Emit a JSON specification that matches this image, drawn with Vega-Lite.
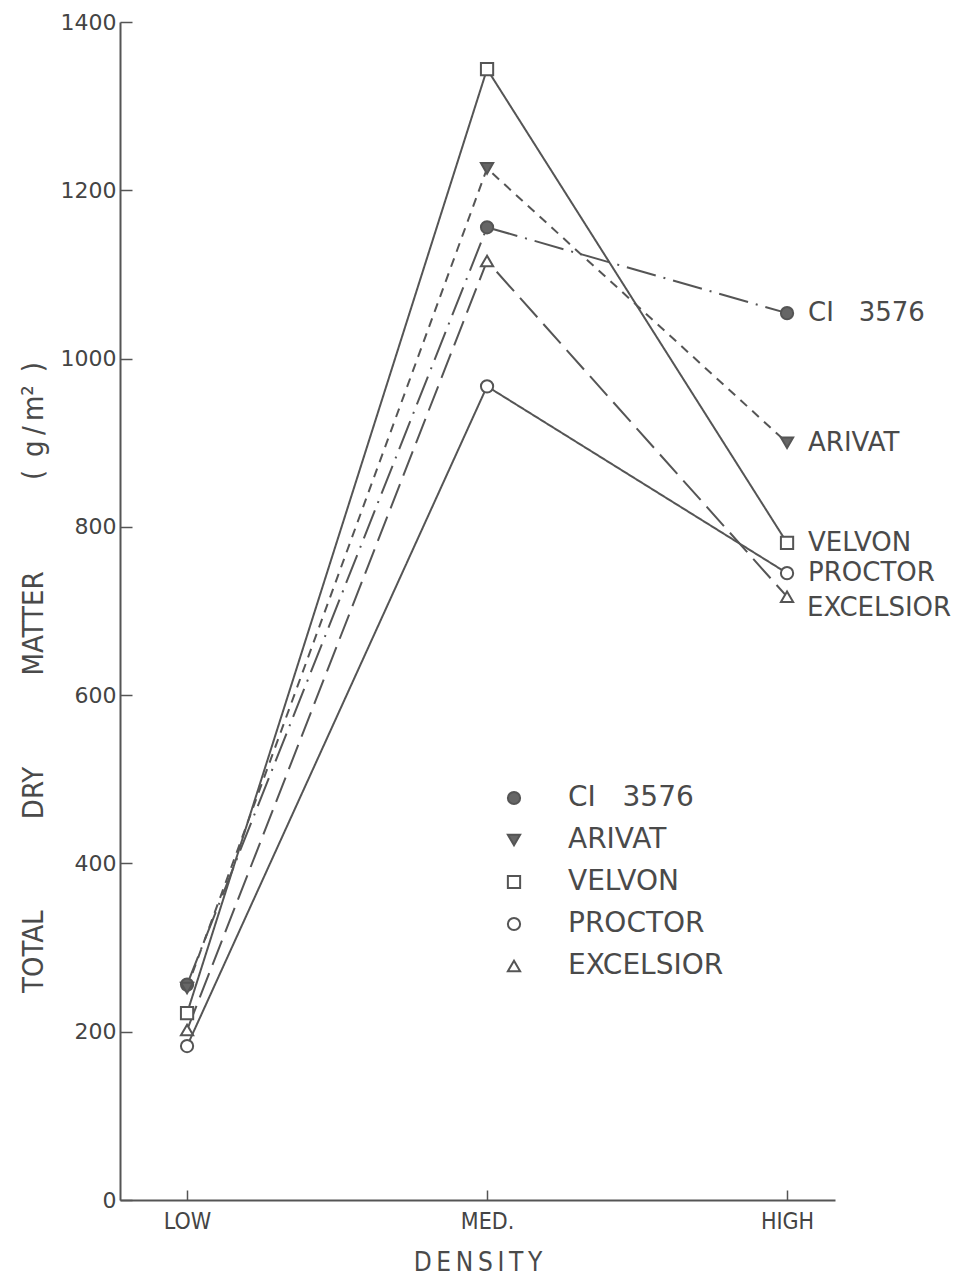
{
  "$schema": "https://vega.github.io/schema/vega-lite/v6.json",
  "width": 715,
  "height": 1178,
  "autosize": {"type": "none"},
  "padding": {"left": 120, "top": 22, "right": 122, "bottom": 76},
  "background": "white",
  "config": {
    "view": {"stroke": null},
    "font": "DejaVu Sans",
    "axis": {
      "domainColor": "#555",
      "domainWidth": 2,
      "tickColor": "#555",
      "tickWidth": 1.5,
      "grid": false,
      "labelColor": "#444",
      "titleColor": "#4a4a4a",
      "titleFontWeight": "normal"
    },
    "legend": {
      "orient": "none",
      "legendX": 380,
      "legendY": 762,
      "labelFontSize": 28,
      "labelColor": "#4a4a4a",
      "labelOffset": 40,
      "rowPadding": 14,
      "symbolSize": 150,
      "symbolStrokeWidth": 2
    }
  },
  "data": {
    "values": [
      {"variety": "CI\u00a0\u00a0\u00a03576", "density": "LOW", "tdm": 256},
      {"variety": "CI\u00a0\u00a0\u00a03576", "density": "MED.", "tdm": 1156},
      {"variety": "CI\u00a0\u00a0\u00a03576", "density": "HIGH", "tdm": 1054},
      {"variety": "ARIVAT", "density": "LOW", "tdm": 252},
      {"variety": "ARIVAT", "density": "MED.", "tdm": 1226},
      {"variety": "ARIVAT", "density": "HIGH", "tdm": 900},
      {"variety": "VELVON", "density": "LOW", "tdm": 222},
      {"variety": "VELVON", "density": "MED.", "tdm": 1344},
      {"variety": "VELVON", "density": "HIGH", "tdm": 781},
      {"variety": "PROCTOR", "density": "LOW", "tdm": 183},
      {"variety": "PROCTOR", "density": "MED.", "tdm": 967},
      {"variety": "PROCTOR", "density": "HIGH", "tdm": 745},
      {"variety": "EXCELSIOR", "density": "LOW", "tdm": 202},
      {"variety": "EXCELSIOR", "density": "MED.", "tdm": 1116},
      {"variety": "EXCELSIOR", "density": "HIGH", "tdm": 717}
    ]
  },
  "encoding": {
    "x": {
      "field": "density",
      "type": "ordinal",
      "sort": ["LOW", "MED.", "HIGH"],
      "scale": {"type": "point", "padding": 0.1917, "align": 0.583},
      "axis": {
        "title": "D\u2009E\u2009N\u2009S\u2009I\u2009T\u2009Y",
        "titleFont": "DejaVu Sans Condensed",
        "titleFontSize": 26,
        "titlePadding": 16,
        "labelAngle": 0,
        "labelFont": "DejaVu Sans Condensed",
        "labelFontSize": 23,
        "tickSize": -10,
        "labelPadding": 20
      }
    },
    "y": {
      "field": "tdm",
      "type": "quantitative",
      "scale": {"domain": [0, 1400]},
      "axis": {
        "values": [0, 200, 400, 600, 800, 1000, 1200, 1400],
        "format": "d",
        "title": "TOTAL\u2003\u2003\u2003\u2002DRY\u2003\u2003\u2003\u2002MATTER\u2003\u2003\u2003\u2002(\u2002g\u2009/\u2009m\u00b2\u2002)",
        "titleFont": "DejaVu Sans Condensed",
        "titleFontSize": 29,
        "titleY": 655,
        "titlePadding": 12,
        "labelFontSize": 22,
        "tickSize": -12,
        "labelPadding": 16
      }
    }
  },
  "layer": [
    {
      "mark": {"type": "line", "stroke": "#555", "strokeWidth": 2},
      "encoding": {
        "detail": {"field": "variety"},
        "strokeDash": {
          "field": "variety",
          "scale": {
            "range": [[9, 7], [30, 8, 2, 8], [26, 9], [1, 0], [1, 0]]
          },
          "legend": null
        }
      }
    },
    {
      "mark": {"type": "point", "filled": true, "size": 150, "strokeWidth": 2, "opacity": 1},
      "encoding": {
        "shape": {
          "field": "variety",
          "title": null,
          "scale": {
            "domain": ["CI\u00a0\u00a0\u00a03576", "ARIVAT", "VELVON", "PROCTOR", "EXCELSIOR"],
            "range": ["circle", "triangle-down", "square", "circle", "triangle-up"]
          }
        },
        "fill": {
          "field": "variety",
          "title": null,
          "scale": {
            "domain": ["CI\u00a0\u00a0\u00a03576", "ARIVAT", "VELVON", "PROCTOR", "EXCELSIOR"],
            "range": ["#666", "#666", "white", "white", "white"]
          }
        },
        "stroke": {
          "field": "variety",
          "title": null,
          "scale": {
            "domain": ["CI\u00a0\u00a0\u00a03576", "ARIVAT", "VELVON", "PROCTOR", "EXCELSIOR"],
            "range": ["#555", "#555", "#555", "#555", "#555"]
          }
        }
      }
    },
    {
      "transform": [{"filter": "datum.density === 'HIGH' && datum.variety !== 'EXCELSIOR'"}],
      "mark": {"type": "text", "align": "left", "baseline": "middle", "dx": 21, "fontSize": 26, "fill": "#4a4a4a"},
      "encoding": {"text": {"field": "variety"}}
    },
    {
      "transform": [{"filter": "datum.density === 'HIGH' && datum.variety === 'EXCELSIOR'"}],
      "mark": {"type": "text", "align": "left", "baseline": "middle", "dx": 20, "dy": 11, "fontSize": 26, "fill": "#4a4a4a"},
      "encoding": {"text": {"field": "variety"}}
    }
  ]
}
